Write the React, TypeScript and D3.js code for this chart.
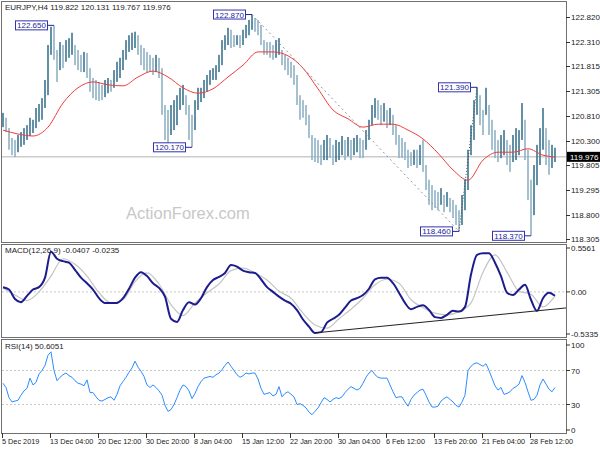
import React from "react";
import * as d3 from "d3";

const highs = [
120.87,120.77,120.56,120.36,120.32,120.42,120.48,120.56,120.62,120.77,
120.73,120.97,121.05,121.17,121.54,122.25,122.62,122.65,122.15,122.31,
122.25,122.35,122.39,122.50,122.25,122.15,122.05,122.11,122.09,121.78,
121.58,121.54,121.50,121.44,121.54,121.58,121.54,121.74,121.91,121.99,
122.15,122.35,122.45,122.50,122.52,122.45,122.25,122.19,122.11,122.05,
121.99,122.05,121.99,121.78,121.03,120.93,121.03,121.13,121.23,121.38,
121.44,121.23,121.03,120.83,121.13,121.38,121.38,121.54,121.64,121.74,
121.78,121.84,122.05,122.35,122.45,122.60,122.56,122.45,122.45,122.45,
122.56,122.66,122.76,122.87,122.80,122.76,122.66,122.35,122.31,122.31,
122.25,122.35,122.39,122.15,122.05,121.99,121.91,121.84,121.64,121.23,
121.13,121.03,120.83,120.42,120.36,120.32,120.22,120.32,120.42,120.36,
120.22,120.32,120.28,120.40,120.32,120.38,120.32,120.36,120.42,120.36,
120.32,120.52,120.73,121.03,121.17,121.13,121.03,121.07,120.93,120.97,
120.83,120.62,120.42,120.36,120.28,120.12,120.07,120.12,120.12,120.22,
120.32,119.81,119.51,119.40,119.30,119.26,119.34,119.20,119.26,119.14,
119.10,119.00,118.89,119.20,119.51,120.12,120.62,121.13,121.39,121.23,
120.93,121.38,121.03,120.73,120.52,120.32,120.42,120.52,120.32,120.22,
120.42,120.56,120.52,121.07,120.73,120.12,119.51,119.81,120.22,120.56,
120.97,120.56,120.32,120.22,120.16
];

const lows = [
120.58,120.48,120.12,120.01,119.97,120.07,120.18,120.22,120.32,120.40,
120.46,120.56,120.69,120.73,120.97,121.23,122.05,121.95,121.50,121.74,
121.78,121.91,121.99,122.05,121.84,121.74,121.70,121.70,121.58,121.30,
121.17,121.13,121.11,121.13,121.19,121.27,121.30,121.38,121.50,121.58,
121.74,121.95,122.11,122.15,122.19,122.05,121.84,121.74,121.70,121.70,
121.64,121.70,121.58,120.83,120.32,120.22,120.42,120.52,120.62,120.93,
121.03,120.83,120.32,120.17,120.52,120.93,121.09,121.17,121.30,121.44,
121.54,121.54,121.70,121.84,122.15,122.25,122.19,122.21,122.25,122.19,
122.25,122.39,122.45,122.56,122.52,122.45,122.25,122.05,122.05,121.99,
121.95,121.99,122.05,121.84,121.74,121.64,121.58,121.44,121.03,120.73,
120.77,120.62,120.36,119.91,119.87,119.85,119.81,119.91,119.91,119.95,
119.81,119.87,119.91,120.01,119.91,119.99,119.91,120.01,120.07,119.95,
119.95,120.12,120.32,120.62,120.77,120.73,120.62,120.69,120.56,120.62,
120.42,120.22,119.95,119.95,119.91,119.75,119.79,119.81,119.75,119.81,
119.67,119.30,119.00,118.89,118.94,118.89,119.00,118.85,118.96,118.85,
118.73,118.59,118.46,118.59,118.89,119.30,120.01,120.32,120.83,120.62,
120.42,120.83,120.42,120.12,119.95,119.87,119.95,120.01,119.81,119.67,
119.87,119.91,120.01,120.32,119.91,119.10,118.37,118.79,119.40,119.81,
120.12,119.81,119.61,119.75,119.87
];

// moving average, one value every 5 bars (last value = last bar)
const maValues = [
120.52,120.44,120.40,120.58,121.07,121.38,121.50,121.44,121.42,121.60,
121.72,121.60,121.38,121.27,121.36,121.60,121.84,122.11,122.11,122.03,
121.78,121.36,120.93,120.75,120.58,120.64,120.64,120.52,120.34,120.05,
119.71,119.50,119.91,120.07,120.07,120.14,120.01,119.97
];

// MACD main, one value every 2 bars
const macdMain = [
0.06,0.03,-0.09,-0.13,-0.05,0.03,0.06,0.18,0.51,0.42,
0.39,0.37,0.28,0.18,0.11,0.03,-0.08,-0.14,-0.14,-0.14,
-0.08,0.04,0.18,0.25,0.20,0.11,0.05,-0.06,-0.34,-0.38,
-0.23,-0.13,-0.16,-0.08,0.06,0.15,0.19,0.24,0.34,0.32,
0.27,0.25,0.24,0.16,0.06,0.00,-0.06,-0.11,-0.15,-0.23,
-0.35,-0.44,-0.52,-0.51,-0.39,-0.34,-0.29,-0.20,-0.11,-0.08,
-0.04,0.04,0.16,0.18,0.18,0.11,-0.01,-0.14,-0.22,-0.19,
-0.17,-0.23,-0.32,-0.33,-0.29,-0.24,-0.25,-0.19,0.22,0.47,
0.49,0.49,0.37,0.20,-0.01,-0.04,0.03,0.09,-0.10,-0.24,
-0.08,-0.01,-0.05
];

// MACD signal, one value every 4 bars
const macdSignal = [
0.05,-0.04,-0.11,0.00,0.20,0.42,0.35,0.20,-0.01,-0.14,
-0.10,0.13,0.24,0.10,-0.16,-0.30,-0.14,-0.01,0.10,0.27,
0.30,0.24,0.15,0.01,-0.08,-0.27,-0.42,-0.46,-0.34,-0.22,
-0.08,0.09,0.16,0.11,-0.10,-0.20,-0.27,-0.29,-0.25,-0.14,
0.25,0.47,0.25,0.01,-0.03,-0.19,-0.05
];

const rsiValues = [
55,50,38,33,34,35,41,46,49,61,
53,56,66,70,76,88,92,70,58,62,
65,67,64,62,58,55,54,52,59,44,
44,39,35,34,36,38,39,35,42,52,
57,62,68,73,81,74,69,63,53,50,
53,50,46,41,29,22,24,30,38,47,
53,51,46,37,43,51,57,61,62,63,
62,65,67,71,76,80,75,70,65,62,
64,67,66,67,67,60,49,42,43,44,
40,42,51,39,43,45,42,39,30,31,
29,26,21,18,22,26,32,38,36,33,
36,38,37,39,44,48,51,49,47,49,
55,62,67,70,65,62,61,61,61,53,
45,38,39,39,33,28,36,41,44,47,
48,41,33,27,27,28,34,37,39,36,
33,29,27,33,41,70,75,78,79,77,
75,78,70,61,52,47,50,42,43,45,
49,51,54,64,56,45,35,36,41,53,
60,54,48,45,50
];

const priceTicks = [122.82, 122.31, 121.815, 121.305, 120.81, 120.3, 119.805, 119.295, 118.8, 118.305];
const macdTicks = [0.5561, 0, -0.5335];
const macdTickLabels = ["0.5561", "0.00", "-0.5335"];
const rsiTicks = [100, 70, 30, 0];
const timeLabels = ["5 Dec 2019", "13 Dec 04:00", "20 Dec 12:00", "30 Dec 20:00", "8 Jan 04:00", "15 Jan 12:00",
  "22 Jan 20:00", "30 Jan 04:00", "6 Feb 12:00", "13 Feb 20:00", "21 Feb 04:00", "28 Feb 12:00"];
const timeTickBars = [0, 16, 32, 48, 64, 80, 96, 112, 128, 144, 160, 176];

const pivotBars = [17, 83, 63, 158, 152, 176];
const pivotPrices = [122.65, 122.87, 120.17, 121.39, 118.46, 118.37];
const pivotTexts = ["122.650", "122.870", "120.170", "121.390", "118.460", "118.370"];

const lastPrice = 119.976;

const FONT = "'Liberation Sans', Arial, sans-serif";

export default function App() {
  const n = highs.length;
  const x = d3.scaleLinear().domain([0, n - 1]).range([3, 555]);
  const yP = d3.scaleLinear().domain([118.305, 122.82]).range([239, 17]);
  const yM = d3.scaleLinear().domain([-0.5335, 0.5561]).range([334, 248]);
  const yR = d3.scaleLinear().domain([0, 100]).range([430, 345]);

  const maIdx = maValues.map((_, i) => Math.min(i * 5, n - 1));
  const maLine = d3.line<number>().x((_, i) => x(maIdx[i])).y(d => yP(d)).curve(d3.curveMonotoneX)(maValues) || "";
  const macdLine = d3.line<number>().x((_, i) => x(i * 2)).y(d => yM(d)).curve(d3.curveMonotoneX)(macdMain) || "";
  const sigLine = d3.line<number>().x((_, i) => x(i * 4)).y(d => yM(d)).curve(d3.curveMonotoneX)(macdSignal) || "";
  const rsiLine = d3.line<number>().x((_, i) => x(i)).y(d => yR(d))(rsiValues) || "";

  // MACD trendline through the two lows, extended to the right edge
  const t1 = 104, t2 = 178;
  const v1 = -0.52, v2 = -0.24;
  const slope = (v2 - v1) / (x(t2) - x(t1));
  const trendEndX = 566;
  const trendEndV = v2 + slope * (trendEndX - x(t2));

  const borderColor = "#707070";

  return (
    <div>
      <style>{`body{margin:0;background:#fff}`}</style>
      <svg width={600} height={450} style={{ display: "block", background: "#fff" }} fontFamily={FONT}>
        {/* panel frames */}
        <rect x={1.5} y={1.5} width={565} height={241} fill="none" stroke={borderColor} />
        <rect x={1.5} y={244.5} width={565} height={93} fill="none" stroke={borderColor} />
        <rect x={1.5} y={339.5} width={565} height={94} fill="none" stroke={borderColor} />

        {/* watermark */}
        <text x={126} y={219} fontSize={16.5} fill="#c8c8c8">ActionForex.com</text>

        {/* current price line */}
        <line x1={2} x2={566} y1={yP(lastPrice)} y2={yP(lastPrice)} stroke="#cccccc" strokeWidth={1.5} />

        {/* bars */}
        {highs.map((h, i) => {
          const mid = (h + lows[i]) / 2;
          const prevMid = i > 0 ? (highs[i - 1] + lows[i - 1]) / 2 : mid;
          const up = mid >= prevMid;
          return (
            <rect key={i} x={x(i) - 0.8} y={yP(h)} width={1.6} height={Math.max(1, yP(lows[i]) - yP(h))}
              fill={up ? "#3f7590" : "#8fb1c3"} />
          );
        })}

        {/* MA */}
        <path d={maLine} fill="none" stroke="#f03c3c" strokeWidth={1} />

        {/* dotted trend lines */}
        <line x1={x(83)} y1={yP(122.87)} x2={x(152)} y2={yP(118.46)} stroke="#8a9aa2" strokeWidth={1} strokeDasharray="2,3" />
        <line x1={x(152)} y1={yP(118.46)} x2={x(158)} y2={yP(121.39)} stroke="#3a4a52" strokeWidth={1} strokeDasharray="1,2" />

        {/* pivot labels */}
        {pivotBars.map((b, i) => {
          const px = x(b);
          const py = yP(pivotPrices[i]);
          const bx = px - 39;
          return (
            <g key={i}>
              <line x1={bx + 32} x2={px} y1={py} y2={py} stroke="#22229a" strokeWidth={1} />
              <rect x={bx + 0.5} y={py - 4.5} width={32} height={9} fill="#fff" stroke="#3333b0" strokeWidth={1} />
              <text x={bx + 16.5} y={py + 3} fontSize={8} fill="#24249a" textAnchor="middle">{pivotTexts[i]}</text>
            </g>
          );
        })}

        {/* header */}
        <text x={5} y={10} fontSize={8} fill="#222">EURJPY,H4  119.822 120.131 119.767 119.976</text>

        {/* price axis */}
        {priceTicks.map((t, i) => (
          <g key={i}>
            <line x1={566} x2={570} y1={Math.round(yP(t)) + 0.5} y2={Math.round(yP(t)) + 0.5} stroke="#333" />
            <text x={571} y={yP(t) + 3} fontSize={8} fill="#222">{t.toFixed(3)}</text>
          </g>
        ))}
        <rect x={567} y={yP(lastPrice) - 5} width={33} height={10} fill="#000" />
        <text x={570} y={yP(lastPrice) + 3} fontSize={8} fill="#fff">{lastPrice.toFixed(3)}</text>

        {/* MACD panel */}
        <line x1={2} x2={566} y1={yM(0)} y2={yM(0)} stroke="#c8c8c8" strokeDasharray="2,2" />
        <path d={sigLine} fill="none" stroke="#c4c4c4" strokeWidth={1.2} />
        <path d={macdLine} fill="none" stroke="#1c1c8e" strokeWidth={2} />
        <line x1={x(t1)} y1={yM(v1)} x2={trendEndX} y2={yM(trendEndV)} stroke="#222" strokeWidth={1} />
        <text x={5} y={253} fontSize={8} fill="#222">MACD(12,26,9) -0.0407 -0.0235</text>
        {macdTicks.map((t, i) => (
          <g key={i}>
            <line x1={566} x2={570} y1={yM(t)} y2={yM(t)} stroke="#333" />
            <text x={571} y={yM(t) + 3} fontSize={8} fill="#222">{macdTickLabels[i]}</text>
          </g>
        ))}

        {/* RSI panel */}
        {[70, 30].map(l => (
          <line key={l} x1={2} x2={566} y1={yR(l)} y2={yR(l)} stroke="#c8c8c8" strokeDasharray="2,2" />
        ))}
        <path d={rsiLine} fill="none" stroke="#2b8cff" strokeWidth={1} />
        <text x={5} y={349} fontSize={8} fill="#222">RSI(14) 50.6051</text>
        {rsiTicks.map((t, i) => (
          <g key={i}>
            <line x1={566} x2={570} y1={yR(t)} y2={yR(t)} stroke="#333" />
            <text x={571} y={yR(t) + 3} fontSize={8} fill="#222">{t}</text>
          </g>
        ))}

        {/* time axis */}
        {timeTickBars.map((b, i) => (
          <g key={i}>
            <line x1={Math.round(x(b)) - 0.5} x2={Math.round(x(b)) - 0.5} y1={433} y2={438} stroke="#333" />
            <text x={x(b) - 1} y={444} fontSize={7.3} fill="#222">{timeLabels[i]}</text>
          </g>
        ))}
      </svg>
    </div>
  );
}
